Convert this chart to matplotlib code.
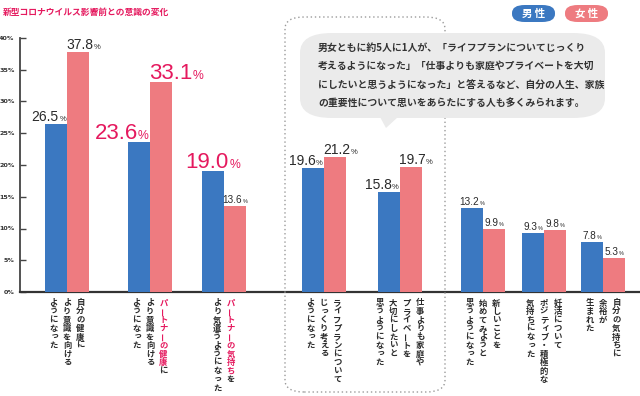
import matplotlib
matplotlib.use("Agg")
import matplotlib.pyplot as plt
from matplotlib.patches import FancyBboxPatch, Polygon
from matplotlib import font_manager as fm

# ---------------- data ----------------
title = "新型コロナウイルス影響前との意識の変化"
series_names = ["男 性", "女 性"]
categories = [
    ["自分の健康に", "より意識を向ける", "ようになった"],
    ["パートナーの健康に", "より意識を向ける", "ようになった"],
    ["パートナーの気持ちを", "より気遣うようになった"],
    ["ライフプランについて", "じっくり考える", "ようになった"],
    ["仕事よりも家庭や", "プライベートを", "大切にしたいと", "思うようになった"],
    ["新しいことを", "始めてみようと", "思うようになった"],
    ["妊活について", "ポジティブ・積極的な", "気持ちになった"],
    ["自分の気持ちに", "余裕が", "生まれた"],
]
male = [26.5, 23.6, 19.0, 19.6, 15.8, 13.2, 9.3, 7.8]
female = [37.8, 33.1, 13.6, 21.2, 19.7, 9.9, 9.8, 5.3]
yticks = [0, 5, 10, 15, 20, 25, 30, 35, 40]
ytick_labels = [f"{v}%" for v in yticks]
callout_lines = [
    "男女ともに約5人に1人が、「ライフプランについてじっくり",
    "考えるようになった」「仕事よりも家庭やプライベートを大切",
    "にしたいと思うようになった」と答えるなど、自分の人生、家族",
    "の重要性について思いをあらたにする人も多くみられます。",
]
highlight_prefix = {1: "パートナーの健康", 2: "パートナーの気持ち"}

# ---------------- layout / style ----------------
W, H = 640, 396
BLUE = "#3b78c1"
PINK = "#ee7b80"
CRIMSON = "#e5195e"
DARK = "#2a2a2a"
JP = "Noto Sans CJK JP"


def has_font(name):
    try:
        fm.findfont(fm.FontProperties(family=name), fallback_to_default=False)
        return True
    except Exception:
        return False


NUMF = "Liberation Sans Narrow" if has_font("Liberation Sans Narrow") else "Liberation Sans"

slot_x = [47, 130, 204, 304, 380, 463, 524, 583]   # group centres (axis units = px from spine)
bar_w = 22
# label style per bar: (size, color, mode)
male_style = [(10, DARK, "r"), (16, CRIMSON, "r"), (16, CRIMSON, "c"), (10, DARK, "r"),
              (10, DARK, "r"), (7.2, DARK, "c"), (7.2, DARK, "c"), (7.2, DARK, "c")]
female_style = [(10, DARK, "l"), (16, CRIMSON, "l"), (7.2, DARK, "c"), (10, DARK, "l"),
                (10, DARK, "l"), (7.2, DARK, "c"), (7.2, DARK, "c"), (7.2, DARK, "c")]

fig = plt.figure(figsize=(W / 100, H / 100), dpi=100)
ax = fig.add_axes([20 / W, (H - 292) / H, 620 / W, 254 / H])
ax.set_xlim(0, 620)
ax.set_ylim(0, 40)

xm = [x - bar_w / 2 for x in slot_x]
xf = [x + bar_w / 2 for x in slot_x]
ax.bar(xm, male, width=bar_w, color=BLUE, zorder=3)
ax.bar(xf, female, width=bar_w, color=PINK, zorder=3)

for s in ["top", "right"]:
    ax.spines[s].set_visible(False)
ax.spines["left"].set_color("#444444")
ax.spines["left"].set_linewidth(1.3)
ax.spines["bottom"].set_color("#333333")
ax.spines["bottom"].set_linewidth(1.6)
ax.set_xticks([])
ax.set_yticks(yticks)
ax.set_yticklabels(ytick_labels, fontsize=4.6, fontweight="bold", color="#333333",
                   family="DejaVu Sans")
ax.tick_params(axis="y", direction="in", length=4, width=1, color="#444444", pad=4)

# ---------- value labels ----------
fig.canvas.draw()
renderer = fig.canvas.get_renderer()
labels = []
for xs, vals, styles in [(xm, male, male_style), (xf, female, female_style)]:
    for x, v, (sz, col, mode) in zip(xs, vals, styles):
        tn = fig.text(0, 0, f"{v:.1f}", fontsize=sz, color=col, family=NUMF,
                      va="baseline", ha="left")
        tp = fig.text(0, 0, "%", fontsize=sz * 0.55, color=col, family=NUMF,
                      va="baseline", ha="left")
        labels.append((x, v, mode, tn, tp))

for x, v, mode, tn, tp in labels:
    wn = tn.get_window_extent(renderer).width
    wp = tp.get_window_extent(renderer).width
    tot = wn + wp + 0.5
    cx, top = ax.transData.transform((x, v))
    left_edge = ax.transData.transform((x - bar_w / 2, v))[0]
    right_edge = ax.transData.transform((x + bar_w / 2, v))[0]
    if mode == "r":
        x0 = right_edge - tot - 1
    elif mode == "l":
        x0 = left_edge - 1
    else:
        x0 = cx - tot / 2
    y0 = top + 3
    tn.set_position((x0 / W, y0 / H))
    tp.set_position(((x0 + wn + 0.5) / W, y0 / H))

# ---------- vertical category labels ----------
small_kana = set("ぁぃぅぇぉっゃゅょゎァィゥェォッャュョヮ")
col_sp = 13.5
step = 8.5
y_first = 303
for gi, cols in enumerate(categories):
    junction_px = slot_x[gi] + 20
    n = len(cols)
    for k, colstr in enumerate(cols):
        cxp = junction_px + (n - 1) / 2 * col_sp - k * col_sp
        hl = highlight_prefix.get(gi, "") if k == 0 else ""
        for i, ch in enumerate(colstr):
            color = CRIMSON if i < len(hl) else DARK
            px, py = cxp, y_first + i * step
            rot = 0
            if ch in small_kana:
                px += 1.2
                py -= 1.2
            if ch == "ー":
                rot = 90
            fig.text(px / W, 1 - py / H, ch, fontsize=6.0, fontweight="bold",
                     family=JP, color=color, ha="center", va="center",
                     rotation=rot, rotation_mode="anchor")

# ---------- dotted highlight box ----------
box = FancyBboxPatch((285 / W, 4 / H), 160 / W, 375 / H,
                     boxstyle="round,pad=0,rounding_size=0.03",
                     transform=fig.transFigure, fill=False, edgecolor="#9a9a9a",
                     linestyle=(0, (1, 2)), linewidth=1.0, zorder=1)
fig.add_artist(box)

# ---------- callout bubble ----------
bub = FancyBboxPatch((300 / W, (H - 118) / H), 305 / W, 85 / H,
                     boxstyle="round,pad=0,rounding_size=0.05",
                     transform=fig.transFigure, facecolor="#ebebeb", edgecolor="none",
                     zorder=2)
fig.add_artist(bub)
tail = Polygon([(380 / W, (H - 117) / H), (398 / W, (H - 117) / H), (386 / W, (H - 128) / H)],
               closed=True, transform=fig.transFigure, facecolor="#ebebeb",
               edgecolor="none", zorder=2)
fig.add_artist(tail)
for i, line in enumerate(callout_lines):
    fig.text(318 / W, 1 - (48 + i * 18.3) / H, line, fontsize=7.1, fontweight="bold",
             family=[JP, "DejaVu Sans"], color="#333333", ha="left", va="center",
             zorder=3)

# ---------- title ----------
fig.text(3 / W, 1 - 12 / H, title, fontsize=6.3, fontweight="bold", family=JP,
         color=CRIMSON, ha="left", va="center")

# ---------- legend pills ----------
for name, col, x0 in [(series_names[0], BLUE, 512), (series_names[1], PINK, 565)]:
    p = FancyBboxPatch((x0 / W, (H - 22) / H), 43 / W, 17 / H,
                       boxstyle="round,pad=0,rounding_size=0.02",
                       transform=fig.transFigure, facecolor=col, edgecolor="none")
    fig.add_artist(p)
    fig.text((x0 + 21.5) / W, 1 - 13.5 / H, name, fontsize=7.5, fontweight="bold",
             family=JP, color="white", ha="center", va="center")

fig.savefig("out.png", dpi=100)
